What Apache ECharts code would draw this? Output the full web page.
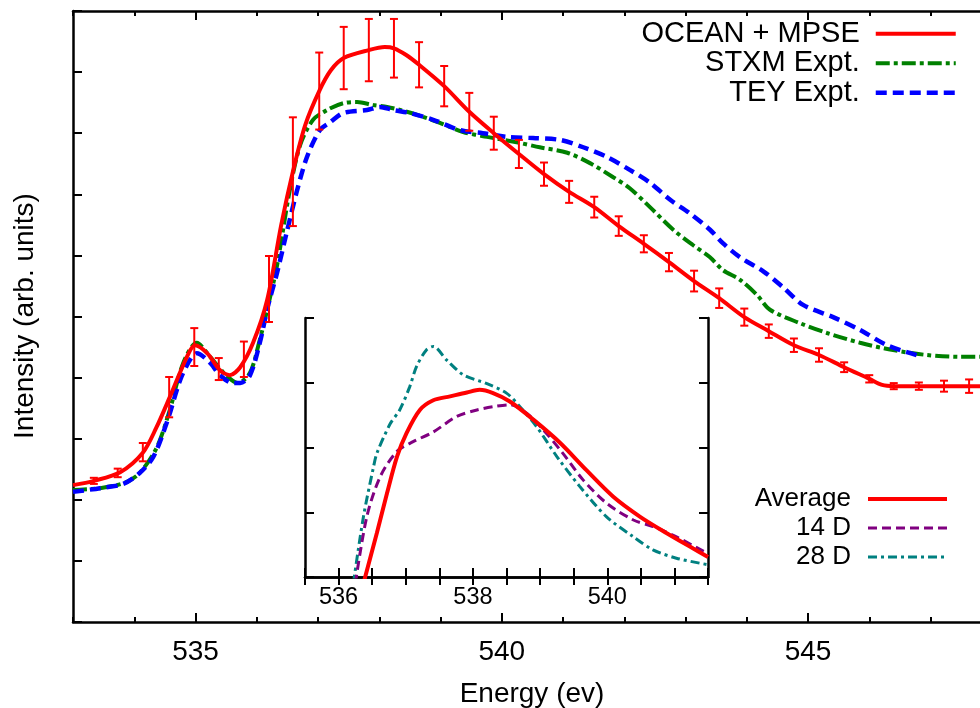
<!DOCTYPE html>
<html><head><meta charset="utf-8">
<script src="https://cdn.jsdelivr.net/npm/echarts@6/dist/echarts.min.js"></script>
<style>html,body{margin:0;padding:0;background:#fff}#c{width:980px;height:708px}</style>
</head><body><div id="c"></div>
<script>
const FONT = '"Liberation Sans", Arial, Helvetica, sans-serif';

// ---- Main panel data (energy eV, intensity arb. units) ----
const oceanE = [533.00,533.34,533.77,534.14,534.36,534.58,534.86,534.99,535.19,535.40,535.56,535.73,535.94,536.17,536.40,536.59,536.79,537.02,537.21,537.42,537.83,538.09,538.24,538.44,538.65,539.06,539.47,539.87,540.28,540.69,541.10,541.51,541.91,542.32,542.73,543.14,543.55,543.96,544.36,544.77,545.18,545.59,546.00,546.21,546.40,546.81,547.22,547.63,547.97];
const oceanI = [2.24,2.31,2.45,2.77,3.18,3.68,4.34,4.53,4.40,4.12,4.04,4.17,4.57,5.27,6.50,7.37,8.13,8.69,9.03,9.23,9.36,9.41,9.39,9.28,9.12,8.77,8.35,8.00,7.66,7.33,7.04,6.79,6.48,6.19,5.89,5.58,5.30,4.99,4.76,4.53,4.37,4.17,3.98,3.88,3.86,3.86,3.86,3.86,3.86];

const errE = [533.34,533.73,534.14,534.57,534.98,535.38,535.79,536.20,536.59,537.02,537.42,537.83,538.24,538.65,539.06,539.47,539.87,540.28,540.69,541.10,541.51,541.91,542.32,542.73,543.14,543.55,543.96,544.36,544.77,545.18,545.59,546.00,546.40,546.81,547.22,547.63];
const errI = [2.31,2.44,2.78,3.68,4.50,4.14,4.30,5.45,7.37,8.69,9.23,9.36,9.39,9.12,8.77,8.35,8.00,7.66,7.33,7.04,6.79,6.48,6.19,5.89,5.58,5.30,4.99,4.76,4.53,4.37,4.17,3.98,3.86,3.86,3.86,3.86];
const errD = [0.05,0.07,0.15,0.33,0.31,0.18,0.29,0.54,0.89,0.63,0.51,0.51,0.48,0.37,0.33,0.31,0.27,0.23,0.19,0.18,0.17,0.16,0.14,0.15,0.17,0.16,0.14,0.11,0.11,0.11,0.08,0.06,0.05,0.06,0.09,0.11];

const stxmE = [533.00,533.44,533.85,534.09,534.37,534.58,534.80,535.02,535.24,535.45,535.69,535.89,536.05,536.17,536.33,536.54,536.71,536.92,537.15,537.41,537.64,537.90,538.13,538.34,538.62,538.99,539.37,539.76,540.30,540.62,541.07,541.44,541.82,542.09,542.42,542.80,543.12,543.40,543.61,543.89,544.17,544.38,544.87,545.31,545.85,546.39,546.94,547.48,547.97];
const stxmI = [2.16,2.19,2.28,2.44,2.86,3.47,4.24,4.57,4.34,4.09,3.91,4.08,4.62,5.11,5.83,7.07,7.81,8.22,8.38,8.49,8.51,8.46,8.43,8.38,8.30,8.17,8.02,7.94,7.84,7.77,7.68,7.51,7.28,7.10,6.79,6.42,6.17,5.97,5.76,5.60,5.35,5.11,4.89,4.73,4.57,4.45,4.37,4.34,4.34];

const teyE = [533.00,533.44,533.82,534.09,534.31,534.53,534.75,534.91,535.02,535.24,535.40,535.61,535.73,535.89,536.05,536.18,536.33,536.49,536.66,536.82,537.03,537.20,537.41,537.80,538.01,538.22,538.50,538.88,539.32,539.69,540.09,540.51,540.95,541.33,541.72,542.09,542.42,542.75,543.07,543.40,543.61,543.89,544.27,544.59,544.92,545.41,545.85,546.29,546.83];
const teyI = [2.13,2.19,2.26,2.44,2.70,3.26,3.96,4.29,4.40,4.24,4.04,3.91,3.91,4.04,4.57,5.16,5.71,6.38,7.07,7.61,8.05,8.18,8.33,8.38,8.43,8.38,8.33,8.22,8.05,8.00,7.94,7.92,7.89,7.77,7.61,7.40,7.19,6.91,6.69,6.42,6.20,5.97,5.74,5.48,5.19,4.99,4.78,4.53,4.35];

const mainXLabels = [535, 540, 545];

// ---- Inset data ----
const avgE = [536.37,536.57,536.72,536.87,537.01,537.21,537.41,537.66,537.91,538.10,538.30,538.55,538.90,539.30,539.69,540.09,540.49,540.88,541.28,541.50];
const avgI = [-0.10,0.68,1.29,1.86,2.22,2.58,2.73,2.79,2.85,2.89,2.84,2.71,2.43,2.07,1.65,1.24,0.93,0.68,0.44,0.31];
const d14E = [536.25,536.42,536.62,536.87,537.11,537.41,537.76,538.06,538.30,538.55,538.80,539.05,539.34,539.64,539.99,540.39,540.68,541.03,541.48];
const d14I = [-0.10,0.93,1.55,1.94,2.09,2.24,2.48,2.58,2.63,2.66,2.53,2.27,1.91,1.50,1.14,0.88,0.78,0.62,0.37];
const d28E = [536.22,536.37,536.52,536.57,536.77,536.91,537.06,537.16,537.31,537.41,537.61,537.86,538.20,538.50,538.70,538.95,539.25,539.59,539.99,540.39,540.68,541.03,541.50];
const d28I = [-0.10,0.93,1.70,1.91,2.37,2.58,2.94,3.25,3.51,3.56,3.35,3.12,2.99,2.84,2.63,2.32,1.86,1.40,0.93,0.62,0.42,0.29,0.19];
const insetXLabels = [536, 538, 540];

const zip = (a, b) => a.map((v, i) => [v, b[i]]);
const errData = errE.map((v, i) => [v, errI[i], errD[i]]);

const BLACK = '#000';
const axisLineS = { show: true, lineStyle: { color: BLACK, width: 2.5 } };
const tickS = (len, extra) => Object.assign({ show: true, inside: true, length: len, lineStyle: { color: BLACK, width: 2 } }, extra || {});
const SM = 0.3;

const chart = echarts.init(document.getElementById('c'), null, { renderer: 'canvas' });
chart.setOption({
  animation: false,
  backgroundColor: '#fff',
  textStyle: { fontFamily: FONT, color: BLACK },
  grid: [
    { left: 73, top: 11, width: 980, height: 611, containLabel: false, outerBoundsMode: 'none' },
    { left: 305, top: 318, width: 403, height: 259, containLabel: false, outerBoundsMode: 'none', show: true, backgroundColor: '#fff', borderWidth: 0 }
  ],
  xAxis: [
    { gridIndex: 0, type: 'value', position: 'bottom', min: 533, max: 549, interval: 1,
      axisLine: axisLineS, axisTick: tickS(5), splitLine: { show: false },
      axisLabel: { show: true, customValues: mainXLabels, fontSize: 28, fontFamily: FONT, color: BLACK, margin: 16 } },
    { gridIndex: 0, type: 'value', position: 'bottom', min: 533, max: 549, interval: 1,
      axisLine: { show: false }, axisTick: tickS(9, { customValues: mainXLabels }), splitLine: { show: false }, axisLabel: { show: false } },
    { gridIndex: 0, type: 'value', position: 'top', min: 533, max: 549, interval: 1,
      axisLine: axisLineS, axisTick: tickS(5), splitLine: { show: false }, axisLabel: { show: false } },
    { gridIndex: 0, type: 'value', position: 'top', min: 533, max: 549, interval: 1,
      axisLine: { show: false }, axisTick: tickS(9, { customValues: mainXLabels }), splitLine: { show: false }, axisLabel: { show: false } },
    { gridIndex: 1, type: 'value', position: 'bottom', min: 535.5, max: 541.5, interval: 0.5,
      axisLine: axisLineS, axisTick: tickS(9), splitLine: { show: false },
      axisLabel: { show: true, customValues: insetXLabels, fontSize: 23.5, fontFamily: FONT, color: BLACK, margin: 9 } },
    { gridIndex: 1, type: 'value', position: 'top', min: 535.5, max: 541.5, interval: 0.5,
      axisLine: axisLineS, axisTick: tickS(8), splitLine: { show: false }, axisLabel: { show: false } }
  ],
  yAxis: [
    { gridIndex: 0, type: 'value', position: 'left', min: 0, max: 10, interval: 1,
      axisLine: axisLineS, axisTick: tickS(9), splitLine: { show: false }, axisLabel: { show: false } },
    { gridIndex: 1, type: 'value', position: 'left', min: 0, max: 4, interval: 1,
      axisLine: axisLineS, axisTick: tickS(9), splitLine: { show: false }, axisLabel: { show: false } },
    { gridIndex: 1, type: 'value', position: 'right', min: 0, max: 4, interval: 1,
      axisLine: axisLineS, axisTick: tickS(9), splitLine: { show: false }, axisLabel: { show: false } }
  ],
  legend: [
    { data: [
        { name: 'OCEAN + MPSE', lineStyle: { width: 4 } },
        { name: 'STXM Expt.', lineStyle: { width: 4 } },
        { name: 'TEY Expt.', lineStyle: { width: 4.5 } }
      ],
      orient: 'vertical', align: 'right',
      right: 22, top: 19, padding: 0, itemGap: 0, itemWidth: 80, itemHeight: 14, selectedMode: false,
      itemStyle: { opacity: 0 },
      textStyle: { fontSize: 29, fontFamily: FONT, color: BLACK, lineHeight: 29.5, padding: [0, 11, 0, 0] } },
    { data: [
        { name: 'Average', lineStyle: { width: 4 } },
        { name: '14 D', lineStyle: { width: 3 } },
        { name: '28 D', lineStyle: { width: 3 } }
      ],
      orient: 'vertical', align: 'right',
      right: 31, top: 484.5, padding: 0, itemGap: 0, itemWidth: 79, itemHeight: 14, selectedMode: false,
      itemStyle: { opacity: 0 },
      textStyle: { fontSize: 26, fontFamily: FONT, color: BLACK, lineHeight: 29, padding: [0, 12, 0, 0] } }
  ],
  graphic: [
    { type: 'text', x: 532, y: 694, style: { text: 'Energy (ev)', fontSize: 28, fontFamily: FONT, fill: BLACK, align: 'center', verticalAlign: 'middle' } },
    { type: 'text', x: 25, y: 316, rotation: Math.PI / 2, style: { text: 'Intensity (arb. units)', fontSize: 28, fontFamily: FONT, fill: BLACK, align: 'center', verticalAlign: 'middle' } }
  ],
  series: [
    { name: 'STXM Expt.', type: 'line', xAxisIndex: 0, yAxisIndex: 0, data: zip(stxmE, stxmI), showSymbol: false, symbol: 'none',
      smooth: SM, lineStyle: { color: '#008000', width: 4, type: [14, 4, 4, 4] }, itemStyle: { color: '#008000' }, z: 3 },
    { name: 'TEY Expt.', type: 'line', xAxisIndex: 0, yAxisIndex: 0, data: zip(teyE, teyI), showSymbol: false, symbol: 'none',
      smooth: SM, lineStyle: { color: '#0000ff', width: 4.5, type: [11, 6] }, itemStyle: { color: '#0000ff' }, z: 3 },
    { name: 'OCEAN + MPSE', type: 'line', xAxisIndex: 0, yAxisIndex: 0, data: zip(oceanE, oceanI), showSymbol: false, symbol: 'none',
      smooth: SM, lineStyle: { color: '#ff0000', width: 4 }, itemStyle: { color: '#ff0000' }, z: 4 },
    { name: 'ocean-err', type: 'custom', xAxisIndex: 0, yAxisIndex: 0, data: errData, z: 5,
      renderItem: function (params, api) {
        const x = api.value(0), y = api.value(1), d = api.value(2);
        const t = api.coord([x, y + d]);
        const b = api.coord([x, y - d]);
        const cw = 4;
        const st = { stroke: '#ff0000', lineWidth: 2 };
        return { type: 'group', children: [
          { type: 'line', shape: { x1: t[0], y1: t[1], x2: b[0], y2: b[1] }, style: st },
          { type: 'line', shape: { x1: t[0] - cw, y1: t[1], x2: t[0] + cw, y2: t[1] }, style: st },
          { type: 'line', shape: { x1: b[0] - cw, y1: b[1], x2: b[0] + cw, y2: b[1] }, style: st }
        ] };
      } },
    { name: '28 D', type: 'line', xAxisIndex: 4, yAxisIndex: 1, data: zip(d28E, d28I), showSymbol: false, symbol: 'none', clip: true,
      smooth: SM, lineStyle: { color: '#008080', width: 3, type: [9, 4, 3, 4] }, itemStyle: { color: '#008080' }, z: 6 },
    { name: '14 D', type: 'line', xAxisIndex: 4, yAxisIndex: 1, data: zip(d14E, d14I), showSymbol: false, symbol: 'none', clip: true,
      smooth: SM, lineStyle: { color: '#800080', width: 3, type: [9, 5] }, itemStyle: { color: '#800080' }, z: 6 },
    { name: 'Average', type: 'line', xAxisIndex: 4, yAxisIndex: 1, data: zip(avgE, avgI), showSymbol: false, symbol: 'none', clip: true,
      smooth: SM, lineStyle: { color: '#ff0000', width: 4 }, itemStyle: { color: '#ff0000' }, z: 7 }
  ]
});
</script></body></html>
